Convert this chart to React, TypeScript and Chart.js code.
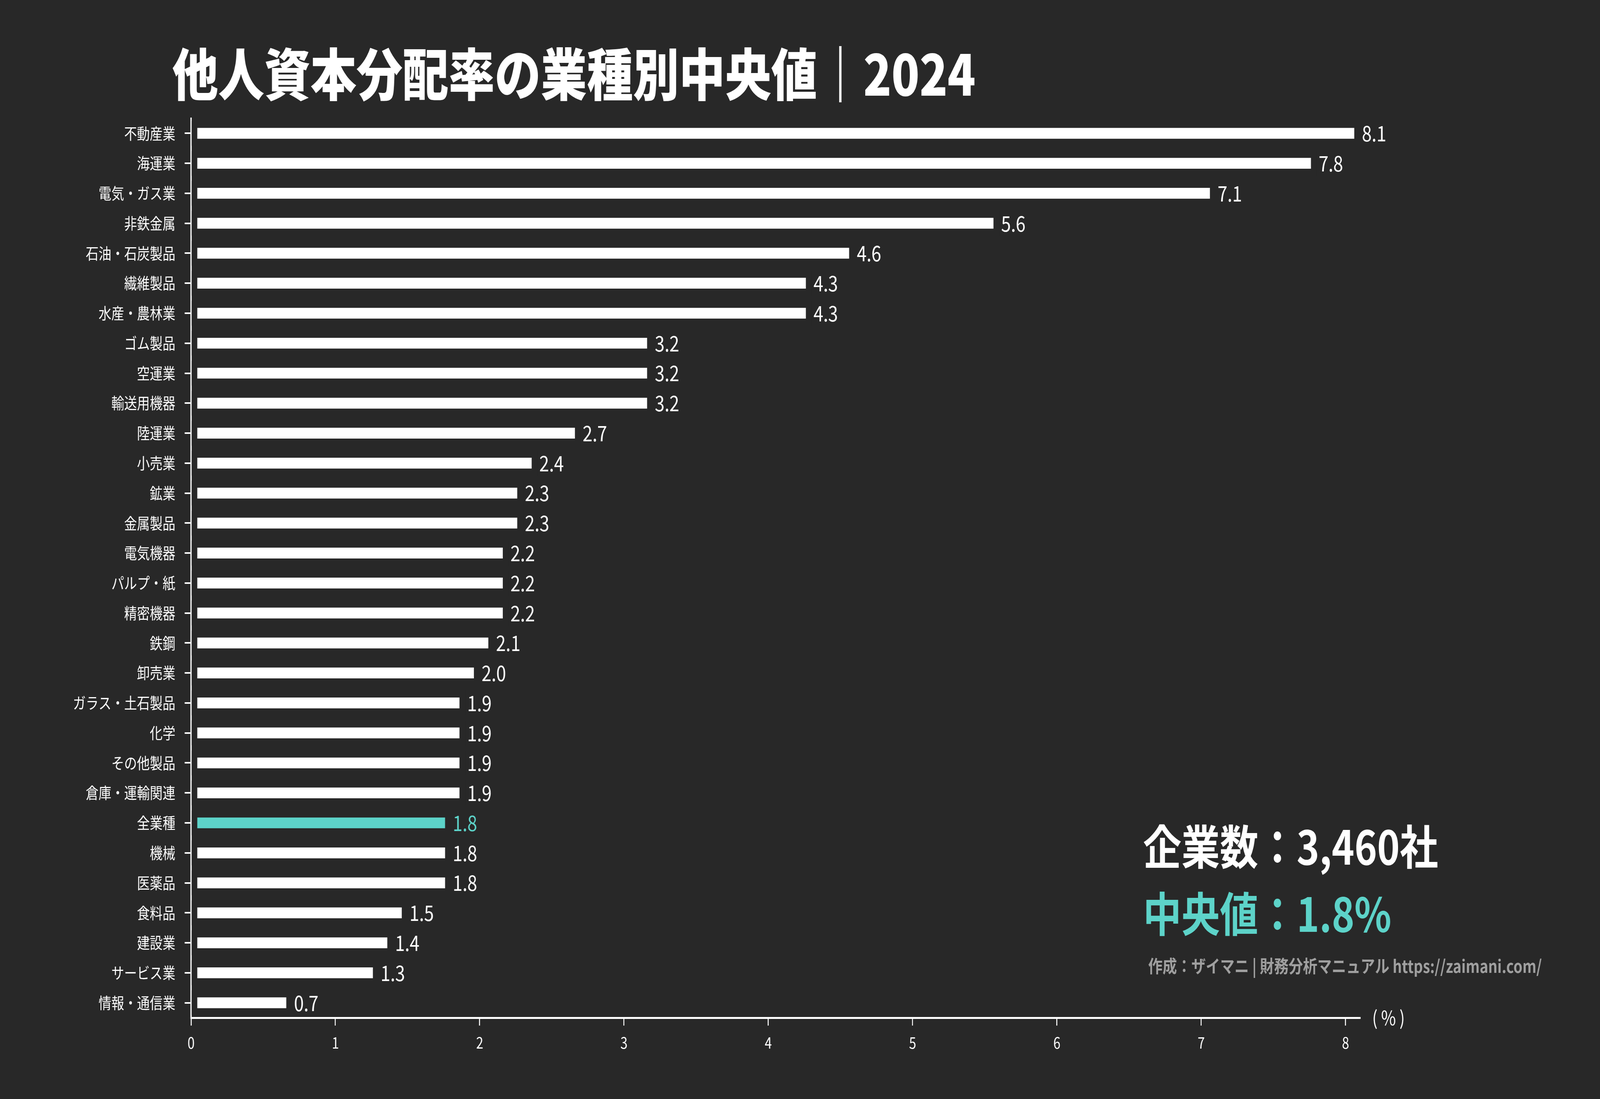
import { useEffect, useRef } from "react";
import { Chart, registerables } from "chart.js";

Chart.register(...registerables);

const categories = [
  "不動産業", "海運業", "電気・ガス業", "非鉄金属", "石油・石炭製品", "繊維製品",
  "水産・農林業", "ゴム製品", "空運業", "輸送用機器", "陸運業", "小売業", "鉱業",
  "金属製品", "電気機器", "パルプ・紙", "精密機器", "鉄鋼", "卸売業",
  "ガラス・土石製品", "化学", "その他製品", "倉庫・運輸関連", "全業種", "機械",
  "医薬品", "食料品", "建設業", "サービス業", "情報・通信業",
];
const values = [
  8.1, 7.8, 7.1, 5.6, 4.6, 4.3, 4.3, 3.2, 3.2, 3.2, 2.7, 2.4, 2.3, 2.3, 2.2, 2.2,
  2.2, 2.1, 2.0, 1.9, 1.9, 1.9, 1.9, 1.8, 1.8, 1.8, 1.5, 1.4, 1.3, 0.7,
];
const highlightCategory = "全業種";
const xMax = 8.1;
const titleText = "他人資本分配率の業種別中央値｜2024";
const companyCountText = "企業数：3,460社";
const medianText = "中央値：1.8%";
const creditText = "作成：ザイマニ | 財務分析マニュアル https://zaimani.com/";
const unitText = "( % )";

const BG = "#282828";
const WHITE = "#ffffff";
const TEAL = "#5dd3c9";
const GREY = "#a0a0a0";
const FONT = "'Noto Sans CJK JP', 'Noto Sans', sans-serif";

const W = 5000;
const H = 2814;

export default function App() {
  const canvasRef = useRef<HTMLCanvasElement | null>(null);

  useEffect(() => {
    const canvas = canvasRef.current;
    if (!canvas) return;

    const textPlugin = {
      id: "textPlugin",
      afterDatasetsDraw(chart: any) {
        const ctx = chart.ctx;
        const meta = chart.getDatasetMeta(0);
        ctx.save();
        ctx.textBaseline = "middle";
        ctx.textAlign = "left";
        ctx.font = `400 55px ${FONT}`;
        meta.data.forEach((el: any, i: number) => {
          ctx.fillStyle = categories[i] === highlightCategory ? TEAL : WHITE;
          ctx.fillText(values[i].toFixed(1), el.x + 6, el.y);
        });
        ctx.restore();
      },
      afterDraw(chart: any) {
        const ctx = chart.ctx;
        const area = chart.chartArea;
        ctx.save();
        ctx.textBaseline = "middle";
        ctx.textAlign = "left";
        ctx.fillStyle = WHITE;
        ctx.font = `900 144px ${FONT}`;
        ctx.fillText(titleText, 538, 190);
        ctx.font = `400 50px ${FONT}`;
        ctx.fillText(unitText, area.right + 38, area.bottom);
        ctx.font = `700 120px ${FONT}`;
        ctx.fillStyle = WHITE;
        ctx.fillText(companyCountText, 3572, 2168);
        ctx.fillStyle = TEAL;
        ctx.fillText(medianText, 3572, 2340);
        ctx.fillStyle = GREY;
        ctx.font = `700 45px ${FONT}`;
        ctx.fillText(creditText, 3588, 2474);
        ctx.restore();
      },
    };

    const chart = new Chart(canvas, {
      type: "bar",
      data: {
        labels: categories,
        datasets: [
          {
            data: values,
            backgroundColor: categories.map((c) => (c === highlightCategory ? TEAL : WHITE)),
            borderColor: BG,
            borderWidth: 18,
            borderSkipped: false,
            barPercentage: 0.83,
            categoryPercentage: 1,
          },
        ],
      },
      options: {
        indexAxis: "y",
        animation: false,
        responsive: false,
        devicePixelRatio: 1,
        layout: { padding: { left: 0, right: 750, top: 303, bottom: 0 } },
        plugins: {
          legend: { display: false },
          title: { display: false },
          tooltip: { enabled: false },
        },
        scales: {
          x: {
            type: "linear",
            min: 0,
            max: xMax,
            afterFit(scale: any) {
              scale.height = H - 2606;
            },
            ticks: {
              stepSize: 1,
              includeBounds: false,
              color: WHITE,
              font: { family: FONT, size: 40 },
              padding: 20,
            },
            grid: {
              drawOnChartArea: false,
              drawTicks: true,
              tickLength: 20,
              color: WHITE,
              lineWidth: 3,
            },
            border: { display: true, color: WHITE, width: 5 },
          },
          y: {
            type: "category",
            afterFit(scale: any) {
              scale.width = 597;
            },
            ticks: {
              color: WHITE,
              font: { family: FONT, size: 40 },
              padding: 29,
              autoSkip: false,
            },
            grid: {
              offset: false,
              drawOnChartArea: false,
              drawTicks: true,
              tickLength: 20,
              color: WHITE,
              lineWidth: 4,
            },
            border: { display: true, color: WHITE, width: 4 },
          },
        },
      } as any,
      plugins: [textPlugin],
    });

    return () => chart.destroy();
  }, []);

  return (
    <div
      style={{
        position: "fixed",
        left: 0,
        top: 0,
        width: "100vw",
        height: "100vh",
        background: BG,
        overflow: "hidden",
      }}
    >
      <canvas
        ref={canvasRef}
        width={W}
        height={H}
        style={{ display: "block", width: "100vw", height: "100vh" }}
      />
    </div>
  );
}
